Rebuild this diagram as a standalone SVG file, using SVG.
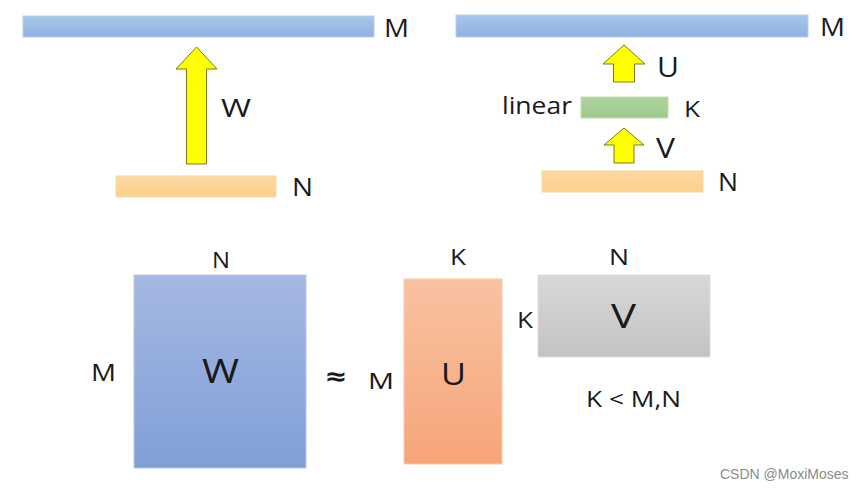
<svg xmlns="http://www.w3.org/2000/svg" width="865" height="490" viewBox="0 0 865 490">
<defs>
<linearGradient id="gBar" x1="0" y1="0" x2="0" y2="1"><stop offset="0" stop-color="#a9c6ea"/><stop offset="1" stop-color="#8fb1df"/></linearGradient>
<linearGradient id="gN" x1="0" y1="0" x2="0" y2="1"><stop offset="0" stop-color="#fdd9a0"/><stop offset="1" stop-color="#fbd08a"/></linearGradient>
<linearGradient id="gG" x1="0" y1="0" x2="0" y2="1"><stop offset="0" stop-color="#aed49e"/><stop offset="1" stop-color="#9dc98b"/></linearGradient>
<linearGradient id="gW" x1="0" y1="0" x2="0" y2="1"><stop offset="0" stop-color="#a5b8e1"/><stop offset="1" stop-color="#809fd7"/></linearGradient>
<linearGradient id="gU" x1="0" y1="0" x2="0" y2="1"><stop offset="0" stop-color="#f8c2a2"/><stop offset="1" stop-color="#f7a578"/></linearGradient>
<linearGradient id="gV" x1="0" y1="0" x2="0" y2="1"><stop offset="0" stop-color="#d8d8d8"/><stop offset="1" stop-color="#c3c3c3"/></linearGradient>
</defs>
<style>
text{font-family:"Open Sans","Noto Sans","DejaVu Sans",sans-serif;fill:#1a1a1a}
.arrow{fill:#ffff00;stroke:#7a7a1a;stroke-width:1}
.bar{stroke:#b8cfe8;stroke-width:1}
.nb{stroke:#f5d9a8;stroke-width:1}
</style>
<rect width="865" height="490" fill="#ffffff"/>

<g id="left-M">
<rect class="bar" x="23" y="16" width="351" height="21" fill="url(#gBar)"/>
<text x="384" y="37" font-size="26" textLength="25" lengthAdjust="spacingAndGlyphs">M</text>
</g>
<g id="left-N">
<rect class="nb" x="116" y="176" width="160" height="21" fill="url(#gN)"/>
<text x="292" y="196" font-size="25" textLength="21" lengthAdjust="spacingAndGlyphs">N</text>
</g>

<g id="right-M">
<rect class="bar" x="456" y="15" width="352" height="22" fill="url(#gBar)"/>
<text x="820" y="36" font-size="26" textLength="25" lengthAdjust="spacingAndGlyphs">M</text>
</g>
<g id="linear">
<rect x="581" y="97" width="87" height="21" fill="url(#gG)" stroke="#c0dcb4" stroke-width="1"/>
<text x="502" y="114" font-size="23" textLength="70" lengthAdjust="spacingAndGlyphs">linear</text>
<text x="684" y="117" font-size="22" textLength="16" lengthAdjust="spacingAndGlyphs">K</text>
</g>
<g id="right-N">
<rect class="nb" x="542" y="171" width="161" height="21" fill="url(#gN)"/>
<text x="718" y="191" font-size="25" textLength="20" lengthAdjust="spacingAndGlyphs">N</text>
</g>

<g id="connectors">
<g id="arrow-W">
<polygon class="arrow" points="186.5,164 186.5,69 176,69 196.5,47 217,69 206.5,69 206.5,164"/>
<text x="221" y="117" font-size="26" textLength="30" lengthAdjust="spacingAndGlyphs">W</text>
</g>
<g id="arrow-U">
<polygon class="arrow" points="613.5,82 613.5,64 603,64 624,45 645,64 634.5,64 634.5,82"/>
<text x="657" y="77" font-size="27" textLength="22" lengthAdjust="spacingAndGlyphs">U</text>
</g>
<g id="arrow-V">
<polygon class="arrow" points="614,163 614,145 604,145 624,128 644,145 634,145 634,163"/>
<text x="656" y="158" font-size="27" textLength="19" lengthAdjust="spacingAndGlyphs">V</text>
</g>
</g>

<g id="matrix-W">
<rect x="134" y="275" width="172" height="193" fill="url(#gW)" stroke="#b9c6e6" stroke-width="1"/>
<text x="212" y="268" font-size="22" textLength="18" lengthAdjust="spacingAndGlyphs">N</text>
<text x="91" y="381" font-size="24" textLength="25" lengthAdjust="spacingAndGlyphs">M</text>
<text x="202" y="383" font-size="32" textLength="37" lengthAdjust="spacingAndGlyphs">W</text>
</g>
<text x="326" y="386" font-size="26" font-weight="bold" textLength="20" lengthAdjust="spacingAndGlyphs">≈</text>
<g id="matrix-U">
<rect x="404" y="279" width="98" height="185" fill="url(#gU)" stroke="#f6c9ad" stroke-width="1"/>
<text x="450" y="265" font-size="21" textLength="16" lengthAdjust="spacingAndGlyphs">K</text>
<text x="368" y="389" font-size="22" textLength="26" lengthAdjust="spacingAndGlyphs">M</text>
<text x="441" y="385" font-size="31" textLength="25" lengthAdjust="spacingAndGlyphs">U</text>
</g>
<g id="matrix-V">
<rect x="538" y="275" width="172" height="82" fill="url(#gV)" stroke="#dcdcdc" stroke-width="1"/>
<text x="609" y="265" font-size="21" textLength="20" lengthAdjust="spacingAndGlyphs">N</text>
<text x="517" y="328" font-size="22" textLength="16" lengthAdjust="spacingAndGlyphs">K</text>
<text x="611" y="328" font-size="32" textLength="25" lengthAdjust="spacingAndGlyphs">V</text>
</g>
<text x="586" y="407" font-size="21" textLength="95" lengthAdjust="spacingAndGlyphs">K &lt; M,N</text>
<text x="720" y="479" style="font-family:'Liberation Sans',Arial,sans-serif;font-size:14px;fill:#8a8a8a">CSDN @MoxiMoses</text>
</svg>
